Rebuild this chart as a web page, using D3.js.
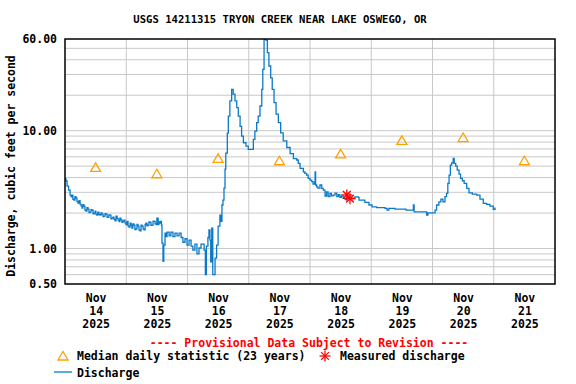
<!DOCTYPE html>
<html>
<head>
<meta charset="utf-8">
<script src="https://cdn.jsdelivr.net/npm/d3@7"></script>
<style>
  html, body { margin: 0; padding: 0; background: #fff; }
  svg { display: block; }
  text { font-family: "DejaVu Sans Mono", "Liberation Mono", monospace; font-weight: bold; }
</style>
</head>
<body>
<svg id="chart" width="576" height="384"></svg>
<script>
// ---------------- DATA ----------------
const title = "USGS 14211315 TRYON CREEK NEAR LAKE OSWEGO, OR";
const yAxisTitle = "Discharge, cubic feet per second";
const startDate = "2025-11-14T00:00:00Z";
const endDate = "2025-11-22T00:00:00Z";

// Discharge: hours since Nov 14 2025 00:00, and cfs
const dischargeHours = [
  0.0, 0.4, 0.8, 1.4, 2.0, 2.4,
  2.7, 3.1, 3.5, 3.9, 4.3, 4.7, 5.1, 5.5, 5.9, 6.3, 6.7, 7.0, 7.4, 7.8, 8.2, 8.6, 9.0, 9.4, 9.8, 10.2, 10.6, 11.0, 11.4, 11.8,
  12.1, 12.5, 12.9, 13.3, 13.7, 14.1, 14.5, 14.9, 15.3, 15.7, 16.1, 16.5, 16.8, 17.2, 17.6, 18.0, 18.4, 18.8, 19.2, 19.6,
  20.0, 20.4, 20.8, 21.2, 21.5, 21.9, 22.3, 22.7, 23.1, 23.5, 23.9,
  24.3, 24.7, 25.1, 25.5, 25.9, 26.2, 26.6, 27.0, 27.4, 27.8, 28.2, 28.6, 29.0, 29.4, 29.8, 30.2, 30.6, 31.0, 31.4, 31.7,
  32.1, 32.5, 32.9, 33.3, 33.7, 34.1, 34.5, 34.9, 35.3, 35.7, 36.0, 36.5, 36.8, 37.2, 37.5, 37.8,
  38.0, 38.4, 38.7, 39.2, 39.6, 40.0, 40.8, 41.5, 42.3, 43.1, 43.9, 44.7, 45.5, 46.2, 47.0, 47.8,
  48.6, 49.4, 50.1, 50.9, 51.7, 52.5, 53.3, 54.1, 54.5, 55.0, 55.4, 56.0, 56.4, 56.8, 57.1, 57.5, 57.9, 58.3, 58.8, 59.4,
  60.0, 60.7, 61.1, 61.5, 61.9, 62.3, 62.7, 63.0, 63.6, 64.0, 64.6, 65.3, 65.9, 66.6, 67.3, 67.9, 68.6, 69.2, 69.9,
  70.9, 71.8, 73.1, 73.8, 74.4, 75.1, 75.7, 76.4, 77.1, 77.5, 78.0, 78.8, 79.3, 79.9, 80.6, 81.2, 81.9, 82.7, 83.6,
  84.5, 85.5, 86.9, 88.2, 89.5, 90.8, 91.4, 92.1, 93.4, 94.0, 94.7, 95.3,
  96.0, 96.7, 97.2, 97.8, 98.0, 98.2, 98.6, 99.1, 99.9, 100.6, 101.2, 101.9, 102.5, 103.1, 103.8, 104.4, 105.1, 105.8, 106.5, 107.1, 107.7,
  108.3, 109.0, 109.8, 110.4, 111.0, 111.7, 112.5, 113.6, 114.9, 115.2, 117.5, 118.7, 119.1,
  120.3, 121.5, 122.1, 125.4, 126.2, 126.9, 129.3, 131.3, 133.6, 134.5, 136.5, 136.8, 138.3, 141.0, 141.7, 142.2,
  144.2, 145.0, 145.6, 146.5, 147.3, 148.1, 148.9, 149.5, 150.0, 150.5, 151.0, 151.5, 152.1, 152.5, 153.1, 153.7,
  154.4, 155.0, 155.7, 156.4, 157.4, 158.3, 159.6, 161.3, 162.6, 163.9, 165.2, 166.5, 167.8, 168.5
];
const dischargeValues = [
  3.89, 3.74, 3.39, 3.13, 2.84, 2.74,
  2.84, 2.62, 2.58, 2.75, 2.68, 2.50, 2.43, 2.55, 2.38, 2.30, 2.20, 2.36, 2.29, 2.12, 2.08, 2.22, 2.16, 2.02, 2.04, 2.14, 2.12, 1.97, 2.00, 2.08,
  1.96, 1.92, 2.04, 1.95, 1.92, 2.01, 1.96, 1.87, 1.88, 1.98, 1.96, 1.84, 1.85, 1.93, 1.92, 1.79, 1.81, 1.85, 1.77, 1.72,
  1.88, 1.80, 1.74, 1.69, 1.81, 1.75, 1.67, 1.71, 1.74, 1.65, 1.60,
  1.70, 1.55, 1.52, 1.64, 1.58, 1.49, 1.62, 1.58, 1.45, 1.47, 1.60, 1.55, 1.43, 1.41, 1.58, 1.55, 1.46, 1.44, 1.60, 1.64,
  1.56, 1.58, 1.68, 1.67, 1.57, 1.58, 1.71, 1.70, 1.62, 1.60, 1.81, 1.60, 1.68, 1.64, 1.70, 1.58,
  1.11, 0.78, 1.07, 1.35, 1.26, 1.38, 1.28, 1.38, 1.26, 1.35, 1.28, 1.35, 1.24, 1.13, 1.21, 1.07,
  1.18, 1.05, 0.97, 1.09, 0.90, 1.01, 1.09, 1.09, 0.97, 0.60, 1.05, 1.24, 1.44, 1.18, 0.77, 1.49, 0.60, 0.60, 0.83, 1.07,
  1.55, 1.92, 1.70, 2.34, 2.58, 3.26, 4.72, 6.46, 9.55, 13.3, 17.9, 22.4, 20.4, 17.9, 15.7, 13.3, 10.9, 9.0, 7.9,
  7.4, 6.95, 6.95, 8.45, 9.9, 11.7, 13.3, 16.2, 22.4, 33.2, 59.5, 58.5, 45.9, 35.4, 28.1, 22.4, 17.3, 13.8, 11.7,
  9.6, 8.2, 7.2, 6.4, 5.8, 5.64, 5.28, 4.79, 4.48, 4.34, 4.20, 3.94,
  3.81, 3.69, 3.52, 3.65, 4.48, 3.46, 3.34, 3.26, 3.46, 3.24, 3.13, 2.79, 3.03, 2.76, 2.94, 2.80, 2.84, 2.95, 2.76, 2.86, 2.72,
  2.80, 2.67, 2.60, 2.70, 2.76, 2.64, 2.68, 2.74, 2.72, 2.58, 2.46, 2.46, 2.34,
  2.26, 2.26, 2.22, 2.19, 2.12, 2.19, 2.16, 2.16, 2.12, 2.12, 2.34, 2.05, 2.05, 2.05, 1.92, 2.01,
  2.01, 2.12, 2.34, 2.49, 2.63, 2.49, 2.76, 2.94, 3.57, 4.20, 5.11, 5.34, 5.82, 5.28, 5.01, 4.63,
  4.28, 3.94, 3.76, 3.57, 3.24, 2.97, 2.90, 2.84, 2.63, 2.42, 2.37, 2.29, 2.15, 2.23
];

// Median daily statistic (23 years), plotted at noon of each day
const medianDays = ["2025-11-14", "2025-11-15", "2025-11-16", "2025-11-17", "2025-11-18", "2025-11-19", "2025-11-20", "2025-11-21"];
const medianValues = [4.89, 4.31, 5.82, 5.56, 6.36, 8.28, 8.75, 5.56];

// Measured discharge
const measuredTimes = ["2025-11-18T14:25:00Z", "2025-11-18T15:40:00Z"];
const measuredValues = [2.85, 2.65];

// Axis ticks
const yTickValues = [0.5, 1, 10, 60];
const yGridValues = [0.6, 0.7, 0.8, 0.9, 1, 2, 3, 4, 5, 6, 7, 8, 9, 10, 20, 30, 40, 50];
const xLabelDays = ["2025-11-14", "2025-11-15", "2025-11-16", "2025-11-17", "2025-11-18", "2025-11-19", "2025-11-20", "2025-11-21"];
const xGridDays = ["2025-11-15", "2025-11-16", "2025-11-17", "2025-11-18", "2025-11-19", "2025-11-20", "2025-11-21"];

// ---------------- DRAW ----------------
const svg = d3.select("#chart");
const L = 65, R = 555, T = 39, B = 284;
const BLUE = "#0a7ac8", ORANGE = "#ffa000", RED = "#ff0000", GRID = "#c8c8c8";

const t0 = new Date(startDate);
const x = d3.scaleUtc().domain([t0, new Date(endDate)]).range([L, R]);
const y = d3.scaleLog().domain([0.5, 60]).range([B, T]);

const dayNoon = s => new Date(s + "T12:00:00Z");
const dayStart = s => new Date(s + "T00:00:00Z");

// Title
svg.append("text").attr("x", 280).attr("y", 23).attr("text-anchor", "middle")
  .attr("font-size", "10.6px").text(title);

// Gridlines
svg.append("g").selectAll("line").data(yGridValues).join("line")
  .attr("x1", L).attr("x2", R).attr("y1", d => y(d)).attr("y2", d => y(d))
  .attr("stroke", GRID).attr("stroke-width", 1);
svg.append("g").selectAll("line").data(xGridDays).join("line")
  .attr("x1", d => x(dayStart(d))).attr("x2", d => x(dayStart(d)))
  .attr("y1", T).attr("y2", B)
  .attr("stroke", GRID).attr("stroke-width", 1);

// Y axis
const yAxis = d3.axisLeft(y).tickValues(yTickValues).tickFormat(d3.format(".2f")).tickSize(0).tickPadding(8);
const gy = svg.append("g").attr("transform", `translate(${L},0)`).call(yAxis);
gy.select(".domain").remove();
gy.selectAll("text").attr("font-size", "11.5px").attr("fill", "#000")
  .style("font-family", '"DejaVu Sans Mono", monospace').style("font-weight", "bold");

// X axis
const xAxis = d3.axisBottom(x).tickValues(xLabelDays.map(dayNoon)).tickSize(0).tickFormat("");
const gx = svg.append("g").attr("transform", `translate(0,${B})`).call(xAxis);
gx.select(".domain").remove();
gx.selectAll(".tick").each(function(d) {
  const tx = d3.select(this).append("text").attr("fill", "#000").attr("text-anchor", "middle")
    .attr("font-size", "11.5px");
  const parts = [d3.utcFormat("%b")(d), d3.utcFormat("%d")(d), d3.utcFormat("%Y")(d)];
  parts.forEach((p, i) => tx.append("tspan").attr("x", 0).attr("y", 18 + i * 13).text(p));
});

// Y axis title
svg.append("text").attr("transform", "translate(15,166) rotate(-90)")
  .attr("text-anchor", "middle").attr("font-size", "11.5px").text(yAxisTitle);

// Clip
svg.append("clipPath").attr("id", "plotclip").append("rect")
  .attr("x", L).attr("y", T).attr("width", R - L).attr("height", B - T);

// Discharge line
const series = dischargeHours.map((h, i) => ({ t: new Date(t0.getTime() + h * 3600000), v: dischargeValues[i] }));
const line = d3.line().x(d => x(d.t)).y(d => y(d.v)).curve(d3.curveStepAfter);
svg.append("path").datum(series).attr("d", line)
  .attr("fill", "none").attr("stroke", BLUE).attr("stroke-width", 1.3)
  .attr("clip-path", "url(#plotclip)");

// Median triangles
function triPath(cx, cy) {
  return `M${cx},${cy - 4.5}L${cx + 5},${cy + 4}L${cx - 5},${cy + 4}Z`;
}
svg.append("g").selectAll("path").data(medianDays.map((d, i) => ({ t: dayNoon(d), v: medianValues[i] })))
  .join("path")
  .attr("d", d => triPath(x(d.t), y(d.v)))
  .attr("fill", "none").attr("stroke", ORANGE).attr("stroke-width", 1.3);

// Measured asterisks
function asterisk(g, cx, cy, r) {
  for (let k = 0; k < 4; k++) {
    const a = k * Math.PI / 4;
    g.append("line")
      .attr("x1", cx - r * Math.cos(a)).attr("y1", cy - r * Math.sin(a))
      .attr("x2", cx + r * Math.cos(a)).attr("y2", cy + r * Math.sin(a))
      .attr("stroke", RED).attr("stroke-width", 1.3);
  }
}
const gm = svg.append("g");
measuredTimes.forEach((t, i) => asterisk(gm, x(new Date(t)), y(measuredValues[i]), 5.5));

// Plot border
svg.append("rect").attr("x", L).attr("y", T).attr("width", R - L).attr("height", B - T)
  .attr("fill", "none").attr("stroke", "#000").attr("stroke-width", 1.5);

// Legend
svg.append("text").attr("x", 309).attr("y", 347).attr("text-anchor", "middle")
  .attr("font-size", "11.5px").attr("fill", RED).text("---- Provisional Data Subject to Revision ----");
svg.append("path").attr("d", triPath(63, 356)).attr("fill", "none").attr("stroke", ORANGE).attr("stroke-width", 1.3);
svg.append("text").attr("x", 77).attr("y", 360).attr("font-size", "11.5px").text("Median daily statistic (23 years)");
asterisk(svg.append("g"), 325, 356, 5.5);
svg.append("text").attr("x", 340).attr("y", 360).attr("font-size", "11.5px").text("Measured discharge");
svg.append("line").attr("x1", 54).attr("x2", 72).attr("y1", 372).attr("y2", 372)
  .attr("stroke", BLUE).attr("stroke-width", 1.3);
svg.append("text").attr("x", 77).attr("y", 377).attr("font-size", "11.5px").text("Discharge");
</script>
</body>
</html>
